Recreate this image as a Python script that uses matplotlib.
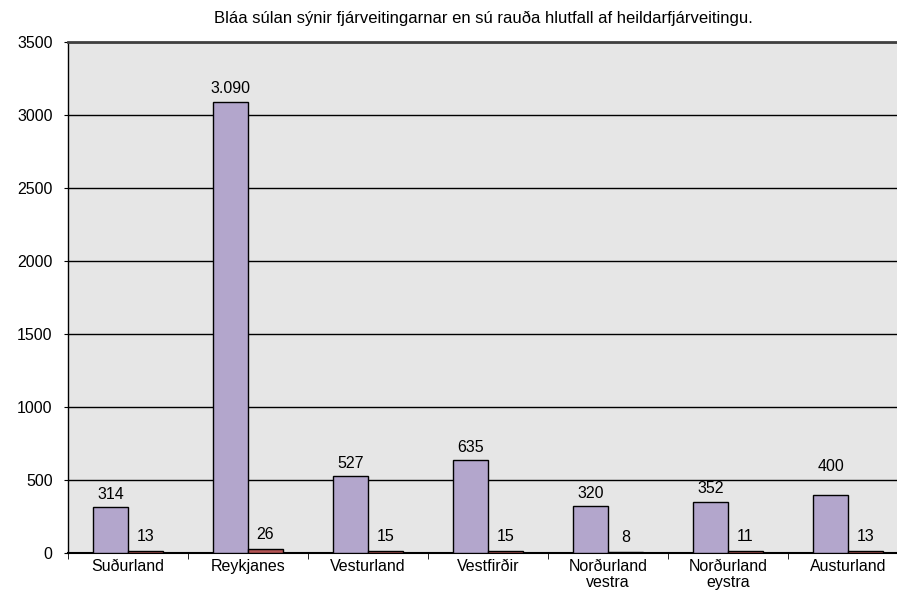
import numpy as np
import matplotlib
matplotlib.use('Agg')
import matplotlib.pyplot as plt
from matplotlib.ticker import MultipleLocator, FixedLocator

plt.rcParams['font.family'] = ['Liberation Sans', 'DejaVu Sans']

regions = ['Suðurland', 'Reykjanes', 'Vesturland', 'Vestfirðir',
           'Norðurland\nvestra', 'Norðurland\neystra', 'Austurland']
funding = [314, 3090, 527, 635, 320, 352, 400]
share = [13, 26, 15, 15, 8, 11, 13]
funding_labels = ['314', '3.090', '527', '635', '320', '352', '400']
share_labels = ['13', '26', '15', '15', '8', '11', '13']

fig = plt.figure(figsize=(8.97, 5.95), dpi=100)
ax = fig.add_axes([68 / 897, 42 / 595, 840 / 897, 511 / 595])
ax.set_facecolor('#E6E6E6')

x = np.arange(len(regions))
w = 0.29
ax.bar(x - w / 2, funding, w, color='#B3A6CC', edgecolor='black', linewidth=1, zorder=3)
ax.bar(x + w / 2, share, w, color='#B55555', edgecolor='black', linewidth=1, zorder=3)

# value labels above the bars
for i, (v, lab) in enumerate(zip(funding, funding_labels)):
    off = 4 if regions[i] != 'Austurland' else 15
    ax.annotate(lab, (x[i] - w / 2, v), xytext=(0, off), textcoords='offset points',
                ha='center', va='bottom', fontsize=11.5)
for i, (v, lab) in enumerate(zip(share, share_labels)):
    ax.annotate(lab, (x[i] + w / 2, v), xytext=(0, 5), textcoords='offset points',
                ha='center', va='bottom', fontsize=11.5)

ax.set_xlim(-0.5, len(regions) - 0.5)
ax.set_ylim(0, 3500)
ax.yaxis.set_major_locator(MultipleLocator(500))
ax.grid(axis='y', color='black', linewidth=1, zorder=1)
ax.set_axisbelow(True)

ax.set_xticks(x)
ax.set_xticklabels(regions, fontsize=11.5, linespacing=1.1)
ax.xaxis.set_minor_locator(FixedLocator(np.arange(-0.5, len(regions), 1.0)))
ax.tick_params(axis='x', which='major', length=0, pad=4)
ax.tick_params(axis='x', which='minor', length=4, direction='out')
ax.tick_params(axis='y', length=3, direction='out', labelsize=11.5, pad=8)

ax.spines['right'].set_visible(False)
ax.spines['left'].set_linewidth(1)
ax.spines['bottom'].set_linewidth(1.5)
ax.spines['top'].set_color('#404040')
ax.spines['top'].set_linewidth(2)

fig.text(483 / 897, 1 - 18 / 595,
         'Bláa súlan sýnir fjárveitingarnar en sú rauða hlutfall af heildarfjárveitingu.',
         ha='center', va='center', fontsize=12)

fig.savefig('out.png', dpi=100)
